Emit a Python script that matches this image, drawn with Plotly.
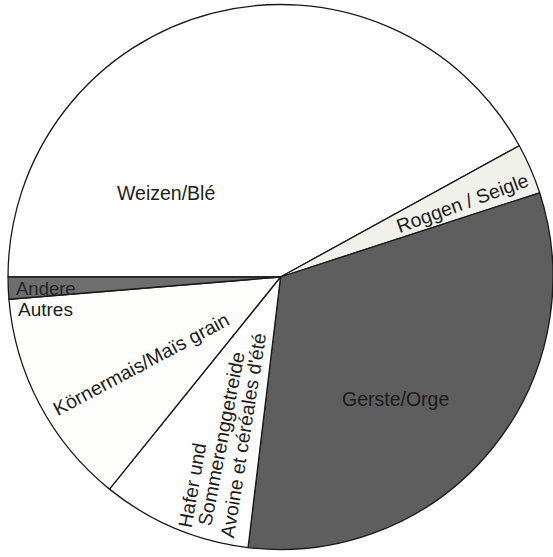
import plotly.graph_objects as go

# Data (shares in percent)
categories = ["Weizen/Blé", "Roggen / Seigle", "Gerste/Orge",
              "Hafer und Sommerenggetreide", "Körnermais/Maïs grain", "Andere/Autres"]
shares = [42.0, 3.0, 31.9, 8.9, 12.9, 1.3]
slice_colors = ["#ffffff", "#f1f1ec", "#5e5e5e", "#ffffff", "#fefefd", "#6e6e6e"]

W, H = 553, 557

fig = go.Figure(go.Pie(
    labels=categories,
    values=shares,
    sort=False,
    direction="clockwise",
    rotation=270,
    textinfo="none",
    hoverinfo="label+percent",
    marker=dict(colors=slice_colors, line=dict(color="#1a1a1a", width=1.3)),
    domain=dict(x=[0.0145, 1.0], y=[0.0108, 0.9946]),
    showlegend=False,
))

FONT = "Liberation Sans, Arial, Helvetica, sans-serif"
TXT = "#1c1c1c"

def ann(text, px, py, angle=0, size=19.5, color=TXT, xanchor="center"):
    fig.add_annotation(
        text=text, x=px / W, y=1 - py / H, xref="paper", yref="paper",
        showarrow=False, textangle=angle, xanchor=xanchor, yanchor="middle",
        font=dict(family=FONT, size=size, color=color),
    )

ann("Weizen/Blé", 166, 193)
ann("Roggen / Seigle", 462, 203, angle=-20)
ann("Gerste/Orge", 395, 399)
ann("Andere", 14, 289, size=18.5, color="#262626", xanchor="left")
ann("Autres", 16, 309, size=19, xanchor="left")
ann("Körnermais/Maïs grain", 141, 364, angle=-28)
ann("Hafer und", 192, 485, angle=-80)
ann("Sommerenggetreide", 221, 439, angle=-79)
ann("Avoine et céréales d'été", 243, 436, angle=-81)

fig.update_layout(
    width=W, height=H,
    margin=dict(l=0, r=0, t=0, b=0),
    paper_bgcolor="white", plot_bgcolor="white",
)

fig.write_html("out.html", config={"displayModeBar": False},
               post_script="document.body.style.margin='0px';")
